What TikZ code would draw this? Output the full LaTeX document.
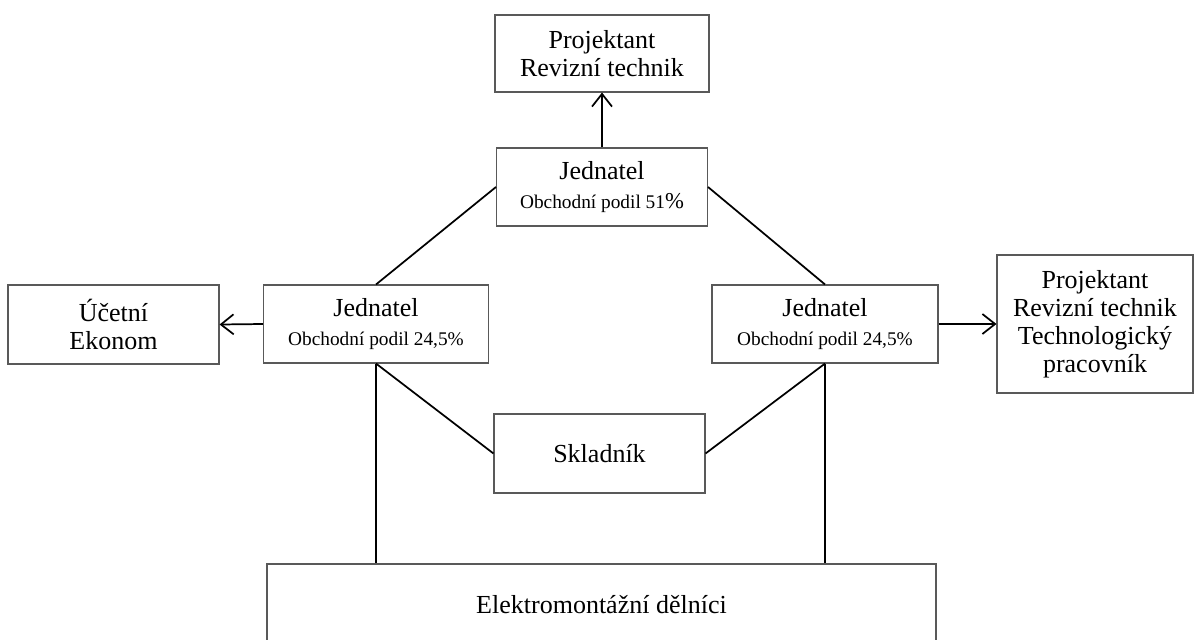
\documentclass[tikz,border=0pt]{standalone}
\usepackage{fontspec}
\setmainfont{Liberation Serif}
\usetikzlibrary{arrows.meta,positioning}
\tikzset{
  box/.style={draw=black!65, line width=0.8pt, fill=white, align=center, inner sep=0pt,
    font=\fontsize{19.5}{21}\selectfont},
  conn/.style={draw=black, line width=1.3pt},
  arr/.style={conn, -{Straight Barb[length=9.5pt,width=15pt,line width=1.3pt]}},
}
\newcommand{\smalltext}{\fontsize{14.5}{16}\selectfont}
\begin{document}
\begin{tikzpicture}[x=0.75pt,y=-0.75pt]
\useasboundingbox (0,0) rectangle (1198,639);
\clip (0,0) rectangle (1198,639);
\node[box, minimum width=214*0.75pt, minimum height=77*0.75pt] (proj) at (602,53.5) {Projektant\\Revizní technik};
\node[box, minimum width=211*0.75pt, minimum height=78*0.75pt] (jtop) at (602,187) {Jednatel\\[1pt]{\smalltext Obchodní podil 51{\fontsize{17}{17}\selectfont\%}}};
\node[box, minimum width=211*0.75pt, minimum height=79*0.75pt] (ucet) at (113.5,324.5) {Účetní\\Ekonom};
\node[box, minimum width=225*0.75pt, minimum height=78*0.75pt] (jleft) at (376,324) {Jednatel\\[1pt]{\smalltext Obchodní podil 24,5\%}};
\node[box, minimum width=226*0.75pt, minimum height=78*0.75pt] (jright) at (825,324) {Jednatel\\[1pt]{\smalltext Obchodní podil 24,5\%}};
\node[box, minimum width=196*0.75pt, minimum height=138*0.75pt] (tech) at (1095,324) {Projektant\\Revizní technik\\Technologický\\pracovník};
\node[box, minimum width=211*0.75pt, minimum height=79*0.75pt] (sklad) at (599.5,453.5) {Skladník};
\node[box, minimum width=669*0.75pt, minimum height=82*0.75pt] (elek) at (601.5,605) {Elektromontážní dělníci};
\draw[arr] (jtop.north) -- (proj.south);
\draw[conn] (jtop.west) -- (jleft.north);
\draw[conn] (jtop.east) -- (jright.north);
\draw[arr] (jleft.west) -- (ucet.east);
\draw[arr] (jright.east) -- (tech.west);
\draw[conn] (jleft.south) -- (sklad.west);
\draw[conn] (jright.south) -- (sklad.east);
\draw[conn] (jleft.south) -- (jleft.south |- elek.north);
\draw[conn] (jright.south) -- (jright.south |- elek.north);
\end{tikzpicture}
\end{document}
